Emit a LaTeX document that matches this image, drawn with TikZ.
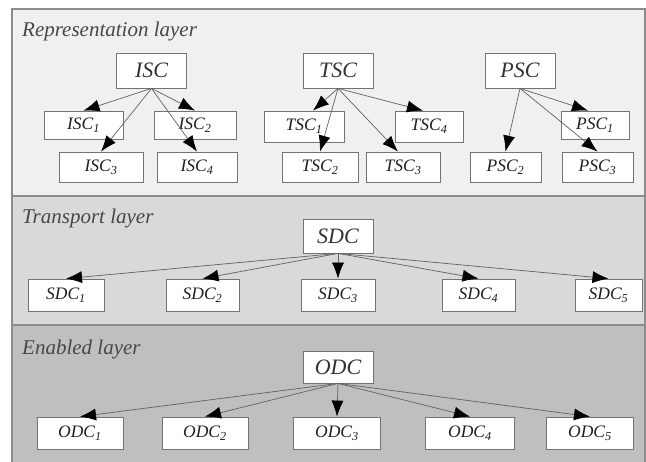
\documentclass[tikz,border=0pt]{standalone}
\usepackage{fontspec}
\setmainfont{Liberation Serif}
\usetikzlibrary{arrows.meta}
\tikzset{
  panel/.style={draw=black!45, line width=1.4pt},
  title/.style={anchor=base west, inner sep=0pt, font=\itshape\fontsize{21}{21}\selectfont, text=black!72},
  parentbox/.style={draw=black!55, line width=0.8pt, fill=white, inner sep=0pt,
    minimum width=70pt, minimum height=35pt, font=\itshape\fontsize{22}{22}\selectfont, text=black!80},
  childbox/.style={draw=black!55, line width=0.8pt, fill=white, inner sep=0pt,
    minimum height=30pt, font=\itshape\fontsize{17.5}{17.5}\selectfont, text=black!88},
  arr/.style={draw=black!62, line width=0.7pt, -{Latex[length=16pt,width=12pt,color=black]}}
}
\newcommand{\lbl}[2]{#1\textsubscript{#2}}
\begin{document}
\begin{tikzpicture}[x=1pt,y=-1pt]
\useasboundingbox (0,0) rectangle (646,462);
% layer panels
\fill[black!6] (12,9) rectangle (645,196);
\fill[black!15] (12,196) rectangle (645,325);
\fill[black!25] (12,325) rectangle (645,470);
\draw[panel] (12,470) -- (12,9) -- (645,9) -- (645,470);
\draw[panel] (12,196) -- (645,196);
\draw[panel] (12,325) -- (645,325);
\node[title] (t1) at (22,37) {Representation layer};
\node[title] (t2) at (22,224) {Transport layer};
\node[title] (t3) at (22,355) {Enabled layer};

% representation layer
\node[parentbox] (ISC) at (151.5,70.5) {ISC};
\node[childbox, minimum width=79pt, minimum height=28pt] (ISC1) at (83.5,125) {\lbl{ISC}{1}};
\node[childbox, minimum width=82pt, minimum height=28pt] (ISC2) at (195,125) {\lbl{ISC}{2}};
\node[childbox, minimum width=84pt] (ISC3) at (101,167) {\lbl{ISC}{3}};
\node[childbox, minimum width=80pt] (ISC4) at (197,167) {\lbl{ISC}{4}};

\node[parentbox] (TSC) at (338,70.5) {TSC};
\node[childbox, minimum width=80pt, minimum height=31pt] (TSC1) at (304,126.5) {\lbl{TSC}{1}};
\node[childbox, minimum width=76pt] (TSC2) at (320,167) {\lbl{TSC}{2}};
\node[childbox, minimum width=74pt] (TSC3) at (403,167) {\lbl{TSC}{3}};
\node[childbox, minimum width=68pt, minimum height=31pt] (TSC4) at (429,126.5) {\lbl{TSC}{4}};

\node[parentbox] (PSC) at (520,70.5) {PSC};
\node[childbox, minimum width=68pt, minimum height=28pt] (PSC1) at (595,125) {\lbl{PSC}{1}};
\node[childbox, minimum width=71pt] (PSC2) at (505.5,167) {\lbl{PSC}{2}};
\node[childbox, minimum width=71pt] (PSC3) at (597.5,167) {\lbl{PSC}{3}};

\draw[arr] (ISC.south) -- (ISC1.north);
\draw[arr] (ISC.south) -- (ISC2.north);
\draw[arr] (ISC.south) -- (ISC3.north);
\draw[arr] (ISC.south) -- (ISC4.north);
\draw[arr] (TSC.south) -- ([xshift=9pt]TSC1.north);
\draw[arr] (TSC.south) -- (TSC2.north);
\draw[arr] (TSC.south) -- ([xshift=-5pt]TSC3.north);
\draw[arr] (TSC.south) -- ([xshift=-6pt]TSC4.north);
\draw[arr] (PSC.south) -- (PSC2.north);
\draw[arr] (PSC.south) -- ([xshift=-7pt]PSC1.north);
\draw[arr] (PSC.south) -- (PSC3.north);

% transport layer
\node[parentbox, minimum height=34pt] (SDC) at (338,236) {SDC};
\node[childbox, minimum width=76pt, minimum height=32pt] (SDC1) at (66,295) {\lbl{SDC}{1}};
\node[childbox, minimum width=73pt, minimum height=32pt] (SDC2) at (202.5,295) {\lbl{SDC}{2}};
\node[childbox, minimum width=74pt, minimum height=32pt] (SDC3) at (338,295) {\lbl{SDC}{3}};
\node[childbox, minimum width=73pt, minimum height=32pt] (SDC4) at (478.5,295) {\lbl{SDC}{4}};
\node[childbox, minimum width=67pt, minimum height=32pt] (SDC5) at (608.5,295) {\lbl{SDC}{5}};
\foreach \i in {1,...,5} \draw[arr] (SDC.south) -- (SDC\i.north);

% enabled layer
\node[parentbox, minimum height=32pt] (ODC) at (338,367) {ODC};
\node[childbox, minimum width=86pt, minimum height=32pt] (ODC1) at (80,433) {\lbl{ODC}{1}};
\node[childbox, minimum width=86pt, minimum height=32pt] (ODC2) at (205,433) {\lbl{ODC}{2}};
\node[childbox, minimum width=87pt, minimum height=32pt] (ODC3) at (337,433) {\lbl{ODC}{3}};
\node[childbox, minimum width=89pt, minimum height=32pt] (ODC4) at (470,433) {\lbl{ODC}{4}};
\node[childbox, minimum width=87pt, minimum height=32pt] (ODC5) at (590,433) {\lbl{ODC}{5}};
\foreach \i in {1,...,5} \draw[arr] (ODC.south) -- (ODC\i.north);
\end{tikzpicture}
\end{document}
